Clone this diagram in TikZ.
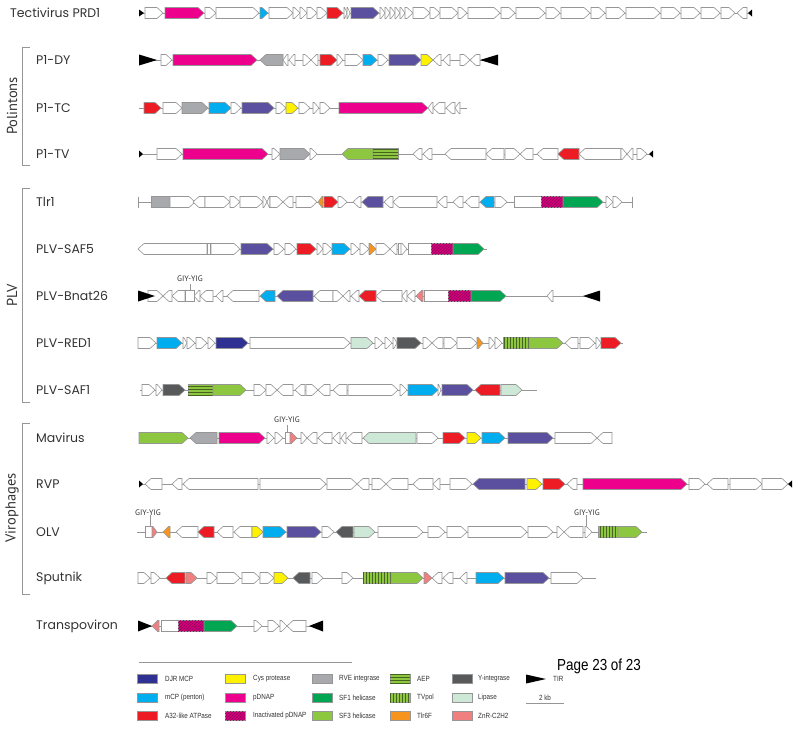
\documentclass[tikz,border=0pt]{standalone}
\usepackage{fontspec}
\setmainfont{Liberation Sans}
\newfontfamily\trackfont{Poppins}
\newfontfamily\groupfont{PT Sans}
\newfontfamily\narrowfont[FakeStretch=0.84]{Liberation Sans}
\usetikzlibrary{patterns}

\definecolor{djrc}{RGB}{46,49,146}
\definecolor{mcpc}{RGB}{0,174,239}
\definecolor{atpc}{RGB}{237,28,36}
\definecolor{cysc}{RGB}{255,242,0}
\definecolor{pdc}{RGB}{236,0,140}
\definecolor{ipdc}{RGB}{210,0,125}
\definecolor{rvec}{RGB}{167,169,172}
\definecolor{sfonec}{RGB}{0,166,81}
\definecolor{sfthreec}{RGB}{141,198,63}
\definecolor{tlrc}{RGB}{247,148,29}
\definecolor{yintc}{RGB}{88,89,91}
\definecolor{lipc}{RGB}{205,232,214}
\definecolor{znrc}{RGB}{240,128,128}
\definecolor{puc}{RGB}{91,80,160}
\definecolor{linec}{RGB}{150,150,150}
\definecolor{textc}{RGB}{50,50,50}

% gene helpers, track y is \ty
\newcommand{\gn}[3][wt]{%
  \pgfmathsetmacro{\gtip}{ifthenelse(#3>#2,1,-1)*min(6,abs(#3-#2)*0.8)}%
  \pgfmathsetmacro{\gmid}{#3-\gtip}%
  \draw[genebox,#1] (#2,\ty-5.5) -- (\gmid,\ty-5.5) -- (#3,\ty) -- (\gmid,\ty+5.5) -- (#2,\ty+5.5) -- cycle;}
\newcommand{\bx}[3][wt]{\draw[genebox,#1] (#2,\ty-5.5) rectangle (#3,\ty+5.5);}
\newcommand{\tir}[2]{\fill[black] (#1,\ty-5.5) -- (#2,\ty) -- (#1,\ty+5.5) -- cycle;}
\newcommand{\stir}[2]{\fill[black] (#1,\ty-3.5) -- (#2,\ty) -- (#1,\ty+3.5) -- cycle;}
\newcommand{\bb}[2]{\draw[backbone] (#1,\ty) -- (#2,\ty);}
\newcommand{\tk}[1]{\draw[backbone] (#1,\ty-5.5) -- (#1,\ty+5.5);}

\begin{document}
\begin{tikzpicture}[
    x=1pt, y=-1pt,
    genebox/.style={draw=linec, line width=0.6pt, line join=miter},
    wt/.style={fill=white},
    djr/.style={fill=djrc}, mcp/.style={fill=mcpc}, atp/.style={fill=atpc},
    cys/.style={fill=cysc}, pd/.style={fill=pdc}, rve/.style={fill=rvec},
    sfone/.style={fill=sfonec}, sfthree/.style={fill=sfthreec}, tlr/.style={fill=tlrc},
    yint/.style={fill=yintc}, lip/.style={fill=lipc}, znr/.style={fill=znrc}, pu/.style={fill=puc},
    ipd/.style={fill=ipdc, postaction={pattern=north east lines, pattern color=ipdc!70!black}},
    aep/.style={fill=sfthreec, postaction={pattern=horizontal lines, pattern color=sfthreec!50!black}},
    tvp/.style={fill=sfthreec, postaction={pattern=vertical lines, pattern color=sfthreec!50!black}},
    backbone/.style={draw=linec, line width=0.6pt},
    bracket/.style={draw=linec, line width=0.8pt},
    tracklabel/.style={anchor=west, inner sep=0pt, font=\trackfont\fontsize{12.5}{14}\selectfont, text=textc},
    grouplabel/.style={rotate=90, inner sep=0pt, font=\groupfont\fontsize{14.5}{16}\selectfont, text=textc},
    domlabel/.style={inner sep=0pt, font=\groupfont\fontsize{8}{9}\selectfont, text=textc},
    legtext/.style={anchor=west, inner sep=0pt, font=\narrowfont\fontsize{7.5}{9}\selectfont, text=textc},
    swatch/.style={draw=linec, line width=0.5pt}
]
\useasboundingbox (0,0) rectangle (800,729);

% Labels and groups
\node[tracklabel] (lPRD) at (10,13) {Tectivirus PRD1};
\node[tracklabel] (lDY) at (36,60) {P1-DY};
\node[tracklabel] (lTC) at (36,108) {P1-TC};
\node[tracklabel] (lTV) at (36,154) {P1-TV};
\node[tracklabel] (lTlr) at (36,202) {Tlr1};
\node[tracklabel] (lSAFfive) at (36,249) {PLV-SAF5};
\node[tracklabel] (lBnat) at (36,296) {PLV-Bnat26};
\node[tracklabel] (lRED) at (36,343) {PLV-RED1};
\node[tracklabel] (lSAFone) at (36,390) {PLV-SAF1};
\node[tracklabel] (lMav) at (36,438) {Mavirus};
\node[tracklabel] (lRVP) at (36,484) {RVP};
\node[tracklabel] (lOLV) at (36,532) {OLV};
\node[tracklabel] (lSput) at (36,578) {Sputnik};
\node[tracklabel] (lTrans) at (36,626) {Transpoviron};

\draw[bracket] (30,47) -- (22,47) -- (22,165) -- (30,165);
\node[grouplabel] (gPol) at (12,106) {Polintons};
\draw[bracket] (30,188) -- (22,188) -- (22,402) -- (30,402);
\node[grouplabel] (gPLV) at (12,295) {PLV};
\draw[bracket] (30,423) -- (22,423) -- (22,594) -- (30,594);
\node[grouplabel] (gVir) at (12,508) {Virophages};

% Tectivirus PRD1
\def\ty{13}
\bb{139}{752} \stir{139}{144}
\gn{145}{163} \gn[pd]{165}{204} \gn{205}{216} \gn{216}{259} \gn[mcp]{260}{268}
\gn{269}{293} \gn{293}{300} \gn{300}{307} \gn{307}{317} \gn{317}{327} \gn[atp]{327}{343}
\gn{344}{347} \gn{347}{350} \gn[pu]{351}{379}
\gn{380}{385} \gn{385}{390} \gn{390}{395} \gn{395}{400} \gn{400}{405} \gn{405}{413}
\gn{413}{430} \gn{430}{440} \gn{440}{458} \gn{458}{467} \gn{468}{500} \gn{501}{515}
\gn{516}{545} \gn{546}{560} \gn{561}{590} \gn{591}{605} \gn{606}{625} \gn{626}{660}
\gn{661}{680} \gn{681}{700} \gn{701}{720} \gn{721}{735} \gn{747}{737} \stir{752}{748}

% Polintons
\def\ty{60}
\bb{139}{498}
\gn{161}{172} \gn[pd]{173}{257} \gn[rve]{283}{260} \gn{288}{283} \gn{295}{289}
\gn{303}{311} \gn{318}{311} \gn[atp]{320}{337} \gn{337}{343} \gn{345}{363} \gn[mcp]{363}{377}
\gn{378}{388} \gn[pu]{389}{421} \gn[cys]{421}{433} \gn{441}{433} \gn{450}{443}
\gn{460}{470} \gn{480}{470} \tir{139}{157} \tir{498}{480}

\def\ty{108}
\bb{139}{467}
\gn[atp]{144}{161} \gn{163}{182} \gn[rve]{182}{208} \gn[mcp]{209}{231} \gn{231}{241}
\gn[pu]{242}{274} \gn{276}{286} \gn[cys]{286}{298} \gn{299}{310} \gn{313}{319} \gn{320}{330}
\gn[pd]{339}{428} \gn{433}{428} \gn{445}{433} \gn{455}{446} \gn{460}{455}

\def\ty{154}
\bb{139}{653} \stir{139}{143}
\gn{157}{182} \gn[pd]{183}{268} \gn{272}{280} \gn[rve]{280}{310} \gn{310}{317}
\gn[sfthree]{373}{342} \bx[aep]{373}{398} \gn{422}{413} \gn{432}{423}
\gn{486}{445} \gn{504}{486} \gn{505}{520} \gn{533}{520} \gn{558}{537} \gn[atp]{579}{558}
\gn{621}{579} \gn{621}{627} \gn{633}{627} \gn{637}{647} \stir{653}{649}

% PLV
\def\ty{202}
\bb{138}{632} \tk{138} \tk{632}
\bx[rve]{151}{170} \gn{170}{195} \gn{205}{193} \gn{205}{230} \gn{230}{240} \gn{240}{263}
\gn{263}{267} \gn{270}{267} \gn{270}{283} \gn{293}{283} \gn{296}{317} \gn[tlr]{323}{318}
\gn[atp]{324}{338} \gn{338}{347} \gn{361}{353} \gn[pu]{383}{362} \gn{393}{384} \gn{437}{393}
\gn{447}{438} \gn{463}{453} \gn{479}{465} \gn[mcp]{494}{480} \gn{495}{507}
\bx{514}{541} \bx[ipd]{541}{563} \gn[sfone]{563}{603} \gn{606}{613} \gn{613}{622}

\def\ty{249}
\bb{138}{487}
\gn{207}{138} \bx{207}{210} \gn{211}{240} \gn[pu]{241}{273} \gn{274}{284} \gn{285}{296}
\gn[atp]{297}{316} \gn{317}{323} \gn{323}{332} \gn[mcp]{332}{350} \gn{351}{359} \gn{360}{369}
\gn[tlr]{369}{376} \gn{376}{390} \gn{397}{390} \bx{398}{401} \gn{401}{407}
\bx{408}{431} \bx[ipd]{431}{453} \gn[sfone]{453}{484}

\def\ty{296}
\bb{138}{600}
\gn{148}{163} \gn{172}{163} \gn{185}{172} \bx{185}{194} \gn{200}{194} \gn{213}{200}
\gn{223}{216} \gn{259}{227} \gn[mcp]{275}{260} \gn[pu]{313}{277} \gn{333}{314} \gn{333}{343}
\gn{350}{343} \gn{359}{351} \gn[atp]{376}{359} \gn{402}{376} \gn{407}{402} \gn{415}{407}
\gn[znr]{423}{416} \bx{424}{448} \bx[ipd]{448}{471} \gn[sfone]{471}{506} \gn{553}{547}
\tir{138}{155} \tir{600}{583}
\draw[backbone] (190,284) -- (190,290.5);
\node[domlabel] (giyBnat) at (190,279) {GIY-YIG};

\def\ty{343}
\bb{138}{623}
\gn{138}{156} \gn[mcp]{157}{182} \gn{183}{187} \gn{187}{195} \gn{196}{207} \gn{208}{215}
\gn[djr]{216}{248} \gn{250}{350} \gn[lip]{351}{373} \gn{375}{383} \gn{385}{392} \gn{393}{397}
\gn[yint]{397}{421} \gn{423}{432} \gn{443}{432} \gn{444}{457} \gn{457}{477} \gn[tlr]{477}{483}
\gn{489}{495} \gn{495}{502} \bx[tvp]{503}{529} \gn[sfthree]{529}{563} \gn{578}{565}
\gn{580}{595} \gn{596}{601} \gn[atp]{601}{621}

\def\ty{390}
\bb{140}{537}
\gn{142}{155} \gn{156}{162} \gn[yint]{163}{185} \bx[aep]{188}{213} \gn[sfthree]{213}{246}
\gn{254}{266} \gn{266}{277} \gn{293}{277} \gn{305}{295} \gn{306}{318} \gn{330}{318}
\gn{347}{333} \gn{348}{398} \gn{400}{407} \gn[mcp]{408}{438} \gn{438}{441}
\gn[pu]{442}{473} \gn[atp]{500}{475} \gn[lip]{501}{522}

% Virophages
\def\ty{438}
\bb{139}{612}
\gn[sfthree]{139}{188} \gn[rve]{217}{190} \gn[pd]{219}{265} \gn{267}{274} \gn{275}{283}
\bx{285}{290} \gn[znr]{290}{297} \gn{301}{307} \gn{317}{307} \gn{332}{318} \gn{340}{333}
\gn{346}{341} \gn{362}{347} \gn[lip]{416}{363} \gn{417}{438} \gn[atp]{443}{465}
\gn[cys]{467}{481} \gn[mcp]{482}{505} \gn[pu]{508}{553} \gn{555}{597} \gn{612}{597}
\draw[backbone] (287,425) -- (287,432.5);
\node[domlabel] (giyMav) at (287,420) {GIY-YIG};

\def\ty{484}
\bb{139}{792} \stir{139}{143}
\gn{162}{145} \gn{182}{172} \gn{258}{183} \gn{260}{326} \gn{327}{357} \gn{369}{357}
\gn{372}{386} \gn{408}{386} \gn{433}{413} \gn{440}{433} \gn{450}{472} \gn[pu]{525}{473}
\gn[cys]{527}{542} \gn[atp]{543}{565} \gn{577}{567} \gn[pd]{583}{687} \gn{689}{705}
\gn{728}{707} \gn{730}{762} \gn{762}{788} \stir{792}{788}

\def\ty{532}
\bb{137}{647}
\bx{145}{152} \gn[znr]{152}{157} \gn[tlr]{170}{163} \gn{198}{176} \gn[atp]{214}{198}
\gn{233}{217} \gn{252}{234} \gn[cys]{252}{263} \gn[mcp]{263}{286} \gn[pu]{287}{321}
\gn{322}{334} \gn[yint]{353}{336} \gn[lip]{354}{375} \gn{378}{423} \gn{428}{445}
\gn{447}{467} \gn{468}{527} \gn{528}{553} \gn{557}{564} \gn{583}{564} \gn{585}{592}
\bx[tvp]{598}{618} \gn[sfthree]{618}{642}
\draw[backbone] (150,515) -- (150,526.5);
\node[domlabel] (giyOLVa) at (148,513) {GIY-YIG};
\draw[backbone] (586,515) -- (586,526.5);
\node[domlabel] (giyOLVb) at (587,513) {GIY-YIG};

\def\ty{578}
\bb{138}{596}
\gn{138}{150} \gn{151}{160} \gn[atp]{185}{166} \gn[znr]{186}{197} \gn{207}{217}
\gn{217}{240} \gn{242}{260} \gn{260}{274} \gn[cys]{274}{288} \gn[yint]{310}{293}
\gn{312}{323} \gn{342}{353} \bx[tvp]{363}{391} \gn[sfthree]{391}{423} \gn[znr]{424}{432}
\gn{442}{432} \gn{453}{443} \gn{467}{460} \gn[mcp]{476}{504} \gn[pu]{505}{549} \gn{551}{583}

% Transpoviron
\def\ty{626}
\bb{138}{323}
\gn[znr]{159}{152} \bx{161}{178} \bx[ipd]{178}{204} \gn[sfone]{204}{237}
\gn{254}{262} \gn{268}{279} \gn{280}{287} \gn{306}{287} \tir{138}{152} \tir{323}{309}

% Legend
\draw[backbone] (139,662) -- (352,662);
\foreach \sty/\txt [count=\i] in {djr/DJR MCP, mcp/mCP (penton), atp/A32-like ATPase}{
  \draw[swatch,\sty] (137,674.5+18.5*\i-18.5) rectangle ++(20,9);
  \node[legtext] (lega\i) at (165,679+18.5*\i-18.5) {\txt};}
\foreach \sty/\txt [count=\i] in {cys/Cys protease, pd/pDNAP, ipd/Inactivated pDNAP}{
  \draw[swatch,\sty] (225,674.5+18.5*\i-18.5) rectangle ++(20,9);
  \node[legtext] (legb\i) at (253,679+18.5*\i-18.5) {\txt};}
\foreach \sty/\txt [count=\i] in {rve/RVE integrase, sfone/SF1 helicase, sfthree/SF3 helicase}{
  \draw[swatch,\sty] (312,674.5+18.5*\i-18.5) rectangle ++(20,9);
  \node[legtext] (legc\i) at (339,679+18.5*\i-18.5) {\txt};}
\foreach \sty/\txt [count=\i] in {aep/AEP, tvp/TVpol, tlr/Tlr6F}{
  \draw[swatch,\sty] (390,674.5+18.5*\i-18.5) rectangle ++(20,9);
  \node[legtext] (legd\i) at (417,679+18.5*\i-18.5) {\txt};}
\foreach \sty/\txt [count=\i] in {yint/Y-integrase, lip/Lipase, znr/ZnR-C2H2}{
  \draw[swatch,\sty] (452,674.5+18.5*\i-18.5) rectangle ++(20,9);
  \node[legtext] (lege\i) at (478,679+18.5*\i-18.5) {\txt};}
\fill[black] (526,674.5) -- (546,679) -- (526,683.5) -- cycle;
\node[legtext] (legTIR) at (553,679) {TIR};
\draw[backbone] (526,703) -- (564,703);
\node[legtext, anchor=south] (legkb) at (545,700.5) {2 kb};
\node[inner sep=0pt, anchor=north west, font=\narrowfont\fontsize{16}{18}\selectfont] (page) at (557,658.5) {Page 23 of 23};
\end{tikzpicture}
\end{document}
